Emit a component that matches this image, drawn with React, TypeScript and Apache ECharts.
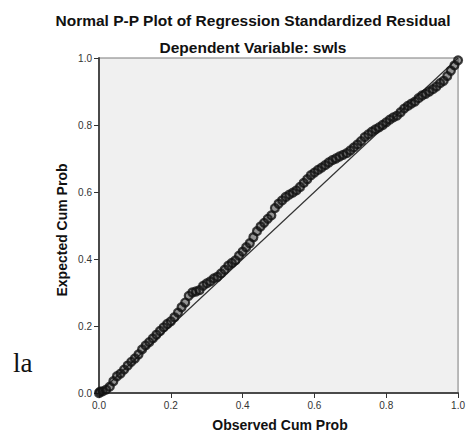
import React, { useEffect, useRef } from "react";
import * as echarts from "echarts";

const titleText = "Normal P-P Plot of Regression Standardized Residual";
const subtitleText = "Dependent Variable: swls";
const xAxisName = "Observed Cum Prob";
const yAxisName = "Expected Cum Prob";

const observed = [
  0.0, 0.003, 0.01, 0.02, 0.03, 0.04, 0.05, 0.06, 0.07, 0.08, 0.09,
  0.1, 0.11, 0.12, 0.13, 0.14, 0.15, 0.16, 0.17, 0.18, 0.19,
  0.2, 0.21, 0.22, 0.23, 0.24, 0.25, 0.26, 0.27, 0.28, 0.29,
  0.3, 0.31, 0.32, 0.33, 0.34, 0.35, 0.36, 0.37, 0.38, 0.39,
  0.4, 0.41, 0.42, 0.43, 0.44, 0.45, 0.46, 0.47, 0.48, 0.49,
  0.5, 0.51, 0.52, 0.53, 0.54, 0.55, 0.56, 0.57, 0.58, 0.59,
  0.6, 0.61, 0.62, 0.63, 0.64, 0.65, 0.66, 0.67, 0.68, 0.69,
  0.7, 0.71, 0.72, 0.73, 0.74, 0.75, 0.76, 0.77, 0.78, 0.79,
  0.8, 0.81, 0.82, 0.83, 0.84, 0.85, 0.86, 0.87, 0.88, 0.89,
  0.9, 0.91, 0.92, 0.93, 0.94, 0.95, 0.96, 0.97, 0.98, 0.99, 1.0,
];

const expected = [
  0.0, 0.004, 0.005, 0.01, 0.019, 0.035, 0.05, 0.058, 0.07, 0.082, 0.093,
  0.103, 0.115, 0.13, 0.142, 0.152, 0.163, 0.174, 0.185, 0.196, 0.206,
  0.214, 0.226, 0.24, 0.256, 0.27, 0.29, 0.3, 0.303, 0.307, 0.32,
  0.327, 0.333, 0.342, 0.347, 0.357, 0.368, 0.38, 0.388, 0.396, 0.41,
  0.422, 0.435, 0.447, 0.465, 0.483, 0.497, 0.508, 0.52, 0.53, 0.552,
  0.565, 0.575, 0.585, 0.592, 0.598, 0.605, 0.615, 0.627, 0.638, 0.65,
  0.658, 0.666, 0.673, 0.68, 0.688, 0.695, 0.7, 0.706, 0.711, 0.716,
  0.724, 0.733, 0.742, 0.752, 0.764, 0.772, 0.78, 0.787, 0.793, 0.8,
  0.808, 0.816, 0.823, 0.828, 0.838, 0.849, 0.857, 0.864, 0.87, 0.88,
  0.888, 0.893, 0.9, 0.907, 0.915, 0.925, 0.932, 0.946, 0.962, 0.978, 0.993,
];

const referenceLine = [
  [0, 0],
  [1, 1],
];

const axisMin = 0;
const axisMax = 1;
const axisStep = 0.2;

export default function App() {
  const ref = useRef<HTMLDivElement>(null);

  useEffect(() => {
    if (!ref.current) return;
    const chart = echarts.init(ref.current, undefined, { renderer: "svg" });
    const points = observed.map((o, i) => [o, expected[i]]);

    const axisCommon = {
      type: "value" as const,
      min: axisMin,
      max: axisMax,
      interval: axisStep,
      splitLine: { show: false },
      axisLine: { show: true, lineStyle: { color: "#4a4a4a", width: 2 } },
      axisTick: { show: true, length: 5, lineStyle: { color: "#333", width: 1 } },
      axisLabel: {
        color: "#333",
        fontSize: 10,
        fontFamily: "Liberation Sans, Arial, sans-serif",
        margin: 7,
        formatter: (v: number) => v.toFixed(1),
      },
    };

    const boldFont = (size: number) =>
      `bold ${size}px 'Liberation Sans', Arial, sans-serif`;

    chart.setOption({
      animation: false,
      backgroundColor: "#ffffff",
      grid: {
        left: 99,
        top: 58,
        right: 7,
        bottom: 40,
        show: true,
        backgroundColor: "#f0f0f0",
        borderColor: "#7a7a7a",
        borderWidth: 1,
      },
      xAxis: { ...axisCommon },
      yAxis: { ...axisCommon },
      series: [
        {
          type: "line",
          data: referenceLine,
          showSymbol: false,
          symbol: "none",
          lineStyle: { color: "#333", width: 1.2 },
          z: 2,
          silent: true,
        },
        {
          type: "scatter",
          data: points,
          symbol: "circle",
          symbolSize: 8,
          itemStyle: {
            color: "rgba(30,30,30,0.55)",
            borderColor: "#111",
            borderWidth: 2.2,
          },
          z: 3,
          silent: true,
        },
      ],
      graphic: [
        {
          type: "text",
          x: 253,
          y: 20,
          style: {
            text: titleText,
            font: boldFont(15.5),
            fill: "#111",
            textAlign: "center",
            textVerticalAlign: "middle",
          },
        },
        {
          type: "text",
          x: 253,
          y: 47,
          style: {
            text: subtitleText,
            font: boldFont(15.5),
            fill: "#111",
            textAlign: "center",
            textVerticalAlign: "middle",
          },
        },
        {
          type: "text",
          x: 280,
          y: 425,
          style: {
            text: xAxisName,
            font: boldFont(14),
            fill: "#111",
            textAlign: "center",
            textVerticalAlign: "middle",
          },
        },
        {
          type: "text",
          x: 62,
          y: 230,
          rotation: Math.PI / 2,
          style: {
            text: yAxisName,
            font: boldFont(14),
            fill: "#111",
            textAlign: "center",
            textVerticalAlign: "middle",
          },
        },
        {
          type: "text",
          x: 13,
          y: 376,
          style: {
            text: "la",
            font: "27px 'Liberation Serif', 'Times New Roman', serif",
            fill: "#111",
            textAlign: "left",
            textVerticalAlign: "bottom",
          },
        },
      ],
    });

    return () => chart.dispose();
  }, []);

  return (
    <div
      ref={ref}
      style={{ position: "fixed", left: 0, top: 0, width: 468, height: 433 }}
    />
  );
}
